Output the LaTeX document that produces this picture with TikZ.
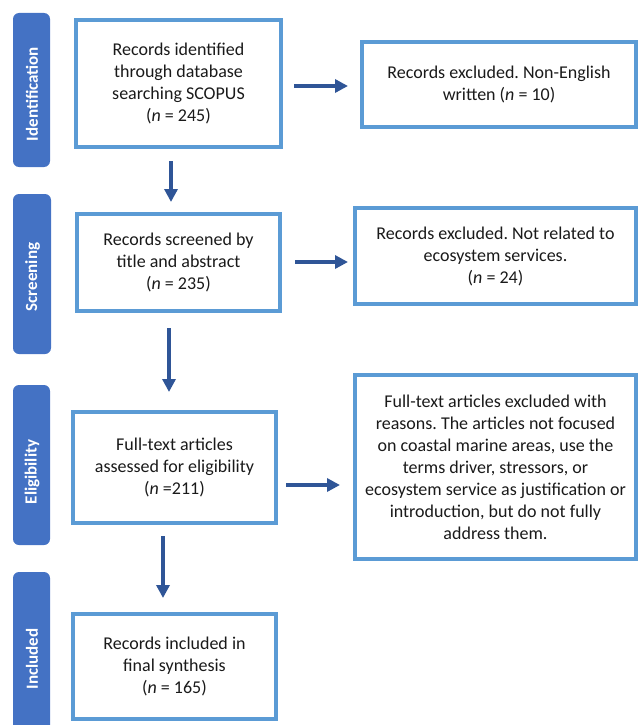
\documentclass[tikz,border=0pt]{standalone}
\usepackage{fontspec}
\setmainfont{Carlito}
\frenchspacing
\usetikzlibrary{arrows.meta}
\definecolor{boxblue}{HTML}{5B9BD5}
\definecolor{labblue}{HTML}{4472C4}
\definecolor{arrblue}{HTML}{2F5597}
\definecolor{txt}{HTML}{1A1A1A}
\begin{document}
\begin{tikzpicture}[x=1pt,y=-1pt,
  stagebox/.style={draw=boxblue,line width=4pt,fill=white,rectangle,align=center,text=txt,
     font=\fontsize{18}{22}\selectfont,inner sep=0pt},
  phase/.style={fill=labblue,rounded corners=6pt,rectangle,inner sep=0pt},
  phasetext/.style={text=white,font=\fontsize{17}{20}\selectfont\bfseries,rotate=90},
  flow/.style={draw=arrblue,line width=4pt,-{Triangle[length=13pt,width=13pt]}}]
\useasboundingbox (0,0) rectangle (638,725);
\clip (0,0) rectangle (638,725);
% phase labels
\node[phase,minimum width=37pt,minimum height=154pt] (l1) at (31.5,90) {};
\node[phasetext] at (32,94) {Identification};
\node[phase,minimum width=38pt,minimum height=160pt] (l2) at (32,274) {};
\node[phasetext] at (32.5,277) {Screening};
\node[phase,minimum width=37pt,minimum height=160pt] (l3) at (31.5,465) {};
\node[phasetext] at (32,472) {Eligibility};
\node[phase,minimum width=37pt,minimum height=180pt] (l4) at (31.5,662) {};
\node[phasetext] at (32,659) {Included};
% boxes
\node[stagebox,minimum width=205pt,minimum height=127pt] (b1) at (178.5,83.5)
  {Records identified\\through database\\searching SCOPUS\\(\textit{n} = 245)};
\node[stagebox,minimum width=274pt,minimum height=85pt] (e1) at (499,84.5)
  {Records excluded. Non-English\\written (\textit{n} = 10)};
\node[stagebox,minimum width=203pt,minimum height=97pt] (b2) at (178.5,262.5)
  {Records screened by\\title and abstract\\(\textit{n} = 235)};
\node[stagebox,minimum width=281pt,minimum height=96pt] (e2) at (495.5,256)
  {Records excluded. Not related to\\ecosystem services.\\(\textit{n} = 24)};
\node[stagebox,minimum width=203pt,minimum height=111pt] (b3) at (174.5,467.5)
  {Full-text articles\\assessed for eligibility\\(\textit{n} =211)};
\node[stagebox,minimum width=281pt,minimum height=184pt] (e3) at (495.5,467)
  {Full-text articles excluded with\\reasons. The articles not focused\\on coastal marine areas, use the\\terms driver, stressors, or\\ecosystem service as justification or\\introduction, but do not fully\\address them.};
\node[stagebox,minimum width=203pt,minimum height=105pt] (b4) at (174.5,666.5)
  {Records included in\\final synthesis\\(\textit{n} = 165)};
% arrow end points
\coordinate (d1s) at (171,161); \coordinate (d1e) at (171,202);
\coordinate (d2s) at (169,328); \coordinate (d2e) at (169,392);
\coordinate (d3s) at (163,536); \coordinate (d3e) at (163,598);
\coordinate (h1s) at (294,86); \coordinate (h1e) at (348,86);
\coordinate (h2s) at (295,262); \coordinate (h2e) at (348,262);
\coordinate (h3s) at (286,485); \coordinate (h3e) at (340,485);
\draw[flow] (d1s) -- (d1e);
\draw[flow] (d2s) -- (d2e);
\draw[flow] (d3s) -- (d3e);
\draw[flow] (h1s) -- (h1e);
\draw[flow] (h2s) -- (h2e);
\draw[flow] (h3s) -- (h3e);
\end{tikzpicture}
\end{document}
